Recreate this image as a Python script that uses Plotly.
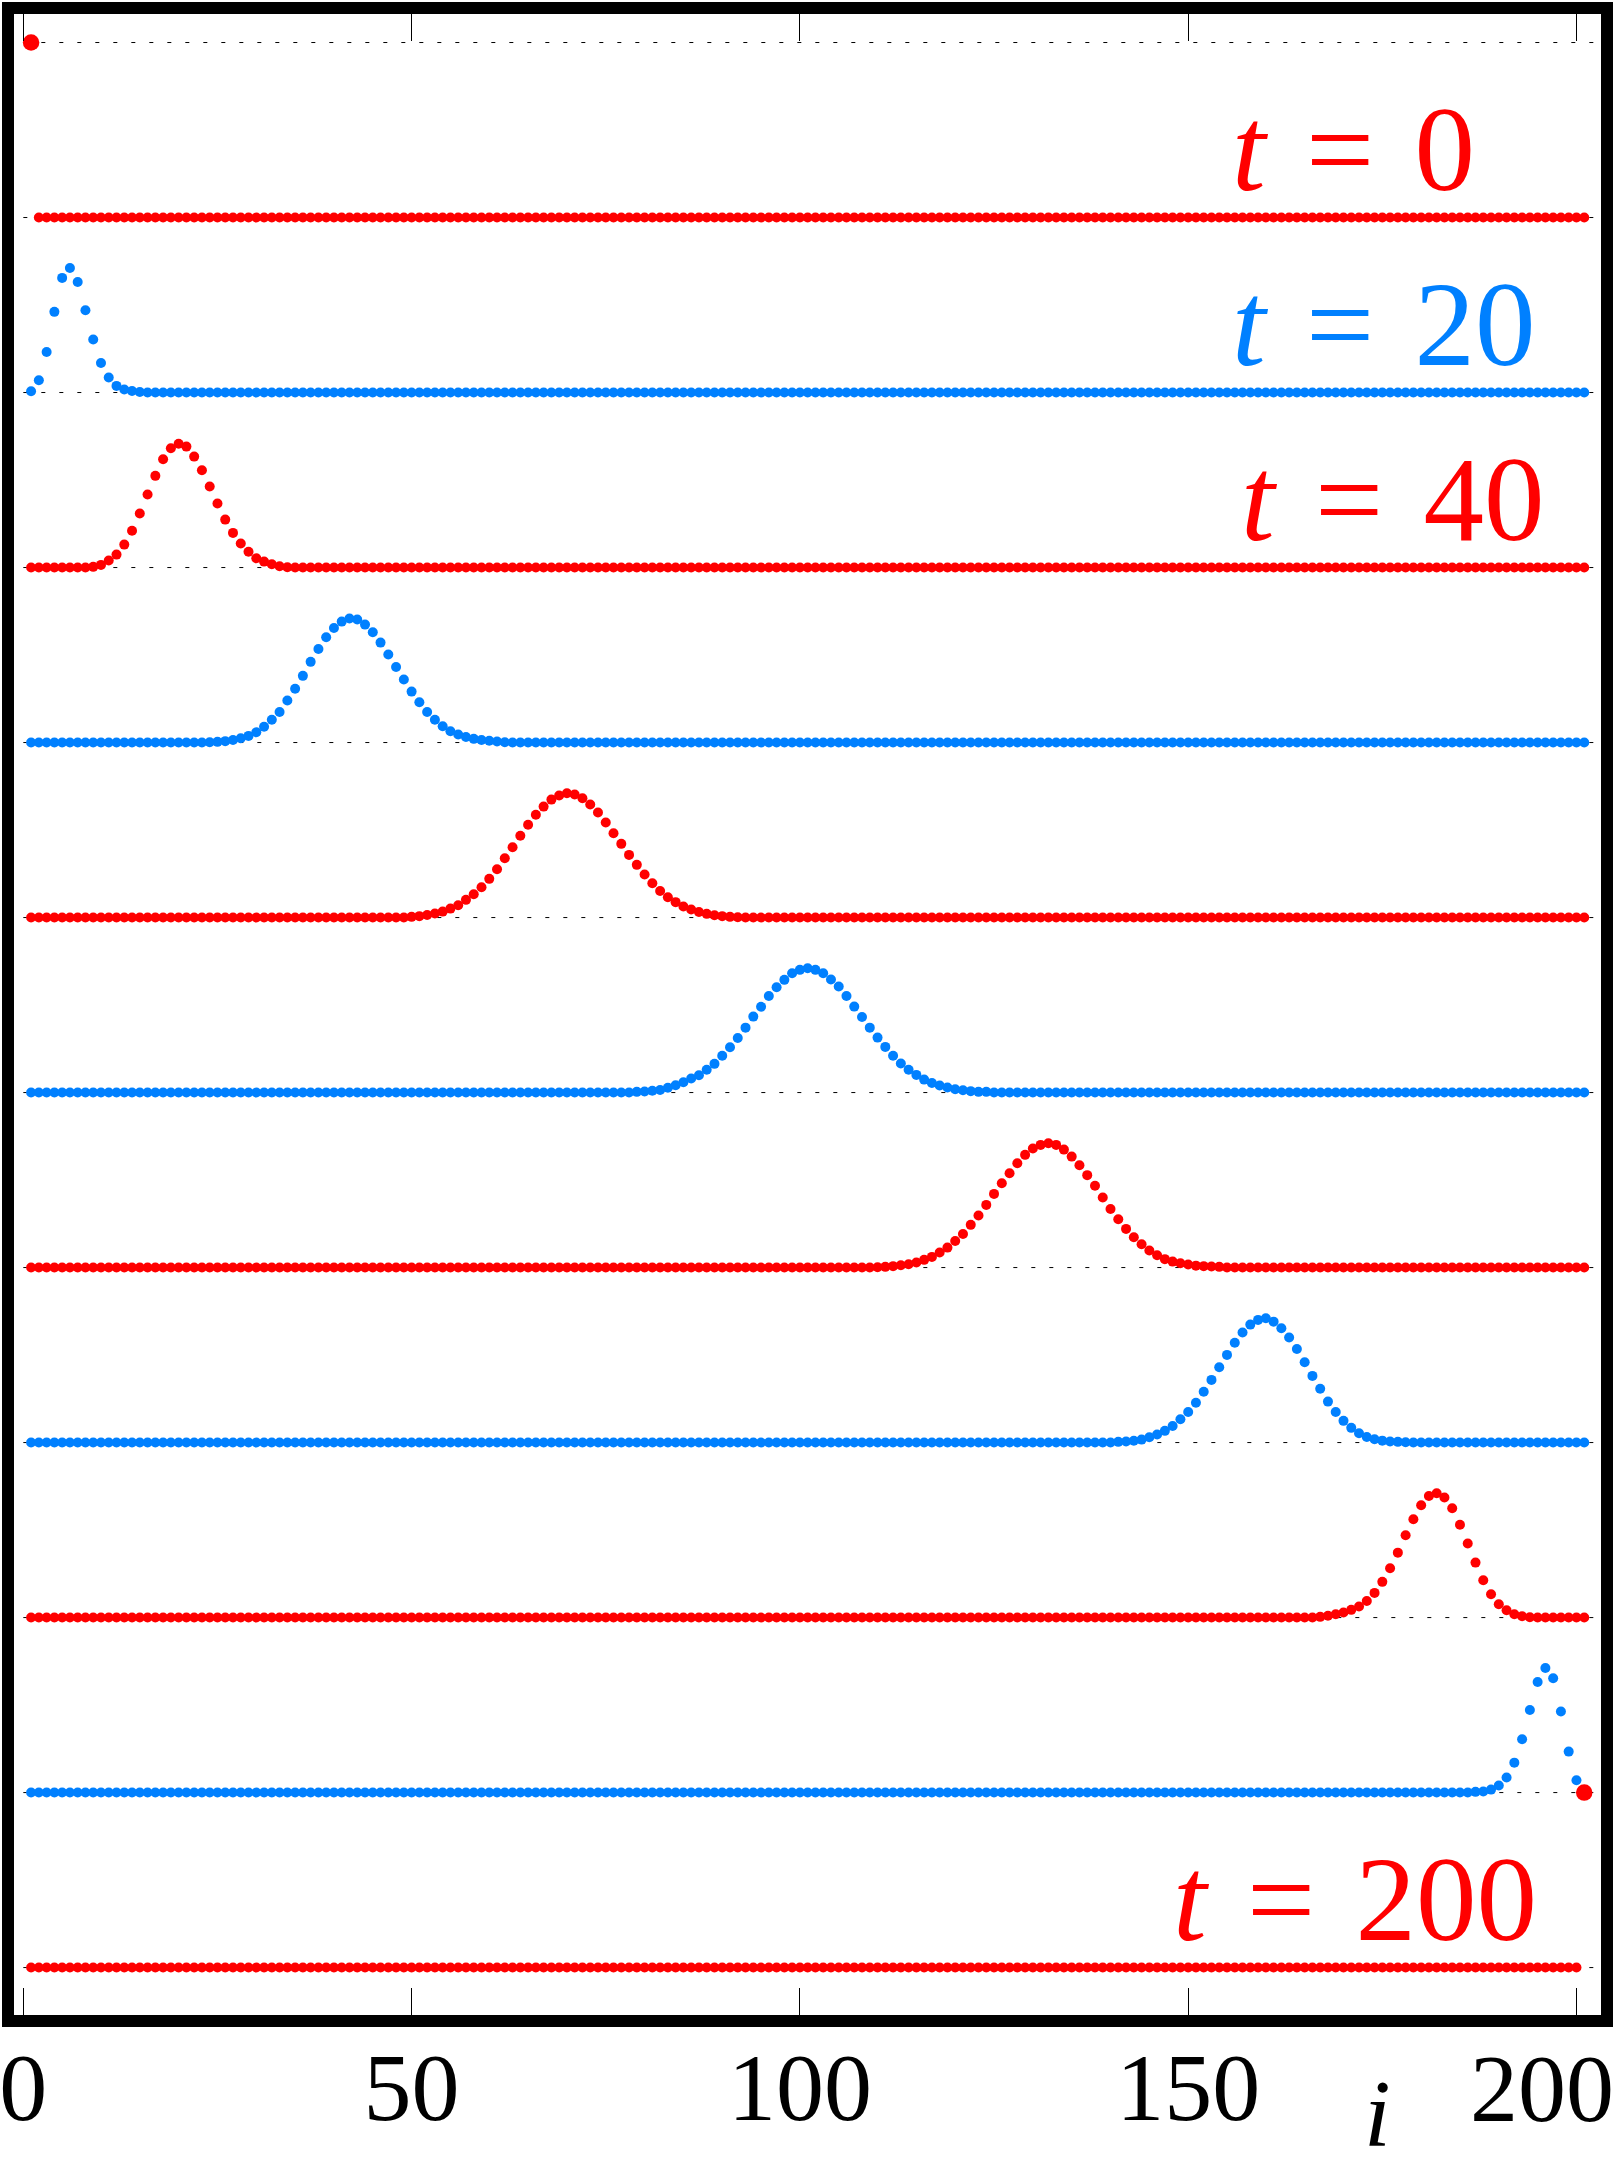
import plotly.graph_objects as go

# ---------------- data ----------------
site_index = list(range(1, 202))          # i = 1 .. 201
times = [0, 20, 40, 60, 80, 100, 120, 140, 160, 180, 200]
x_tick_values = [0, 50, 100, 150, 200]
x_tick_labels = ["0", "50", "100", "150", "200"]

# each profile: first site index of the non-zero stretch, then its values
# (heights in units of the spacing between stacked baselines; zero elsewhere)
start_t0 = 1
amp_t0 = [1.0]

start_t20 = 1
amp_t20 = [0.007, 0.070, 0.232, 0.461, 0.655, 0.712, 0.632, 0.470, 0.303, 0.169,
           0.086, 0.038, 0.017, 0.009, 0.003]

start_t40 = 9
amp_t40 = [0.004, 0.015, 0.040, 0.074, 0.131, 0.210, 0.309, 0.417, 0.524, 0.619,
           0.682, 0.707, 0.691, 0.634, 0.556, 0.463, 0.366, 0.274, 0.198, 0.137,
           0.090, 0.053, 0.034, 0.019, 0.007, 0.002]

start_t60 = 24
amp_t60 = [0.002, 0.004, 0.008, 0.015, 0.025, 0.038, 0.059, 0.090, 0.130, 0.175,
           0.240, 0.307, 0.381, 0.461, 0.535, 0.602, 0.655, 0.691, 0.709, 0.703,
           0.674, 0.630, 0.571, 0.503, 0.432, 0.360, 0.291, 0.230, 0.175, 0.130,
           0.093, 0.065, 0.046, 0.032, 0.021, 0.015, 0.010, 0.006, 0.002]

start_t80 = 50
amp_t80 = [0.004, 0.008, 0.015, 0.023, 0.034, 0.051, 0.070, 0.101, 0.133, 0.173,
           0.221, 0.276, 0.339, 0.402, 0.467, 0.530, 0.587, 0.634, 0.674, 0.697,
           0.710, 0.703, 0.682, 0.646, 0.600, 0.543, 0.482, 0.421, 0.358, 0.301,
           0.246, 0.196, 0.152, 0.116, 0.088, 0.063, 0.046, 0.032, 0.021, 0.013,
           0.008, 0.004, 0.002]

start_t100 = 79
amp_t100 = [0.004, 0.006, 0.010, 0.015, 0.027, 0.042, 0.059, 0.080, 0.099, 0.130,
            0.164, 0.210, 0.259, 0.312, 0.371, 0.434, 0.490, 0.552, 0.602, 0.644,
            0.682, 0.701, 0.710, 0.701, 0.682, 0.646, 0.606, 0.552, 0.491, 0.432,
            0.371, 0.314, 0.261, 0.210, 0.166, 0.130, 0.101, 0.074, 0.055, 0.040,
            0.029, 0.019, 0.013, 0.008, 0.004, 0.004]

start_t120 = 110
amp_t120 = [0.002, 0.004, 0.008, 0.013, 0.019, 0.029, 0.044, 0.061, 0.086, 0.114,
            0.152, 0.192, 0.244, 0.297, 0.358, 0.421, 0.482, 0.539, 0.596, 0.644,
            0.680, 0.701, 0.710, 0.701, 0.674, 0.634, 0.585, 0.528, 0.467, 0.400,
            0.335, 0.276, 0.221, 0.173, 0.133, 0.097, 0.070, 0.048, 0.034, 0.025,
            0.017, 0.011, 0.008, 0.006, 0.004]

start_t140 = 141
amp_t140 = [0.004, 0.006, 0.010, 0.017, 0.030, 0.046, 0.067, 0.095, 0.133, 0.175,
            0.227, 0.290, 0.358, 0.430, 0.501, 0.570, 0.629, 0.674, 0.701, 0.710,
            0.691, 0.653, 0.600, 0.535, 0.459, 0.381, 0.307, 0.234, 0.175, 0.124,
            0.084, 0.053, 0.032, 0.019, 0.011, 0.006, 0.004, 0.002]

start_t160 = 167
amp_t160 = [0.004, 0.010, 0.019, 0.029, 0.044, 0.063, 0.095, 0.141, 0.204, 0.282,
            0.371, 0.470, 0.562, 0.642, 0.695, 0.710, 0.686, 0.625, 0.530, 0.423,
            0.314, 0.213, 0.133, 0.076, 0.042, 0.019, 0.008, 0.002]

start_t180 = 187
amp_t180 = [0.004, 0.006, 0.017, 0.040, 0.086, 0.171, 0.305, 0.472, 0.632, 0.712,
            0.653, 0.463, 0.234, 0.070, 0.010]

start_t200 = 201
amp_t200 = [1.0]

profiles = [
    (start_t0, amp_t0), (start_t20, amp_t20), (start_t40, amp_t40),
    (start_t60, amp_t60), (start_t80, amp_t80), (start_t100, amp_t100),
    (start_t120, amp_t120), (start_t140, amp_t140), (start_t160, amp_t160),
    (start_t180, amp_t180), (start_t200, amp_t200),
]

labelled_times = [0, 20, 40, 200]

# ---------------- styling ----------------
RED = "#ff0000"
BLUE = "rgb(0,128,255)"
SERIF = "Liberation Serif, Times New Roman, serif"
GAP = " \u200a"

fig = go.Figure()

n_rows = len(times)          # 11 profiles, stacked; one extra baseline on top
baselines = list(range(n_rows + 1))

for b in baselines:
    fig.add_shape(type="line", xref="x", yref="y", x0=0, x1=202.3, y0=b, y1=b,
                  line=dict(color="black", width=1, dash="4px,14px"), layer="below")

for k, (t, (start, amp)) in enumerate(zip(times, profiles)):
    vals = [0.0] * len(site_index)
    for j, v in enumerate(amp):
        vals[start - 1 + j] = v
    offset = (times[-1] - t) / 20.0
    color = RED if k % 2 == 0 else BLUE
    sizes = [16.5 if v >= 0.99 else 10 for v in vals]
    fig.add_trace(go.Scatter(
        x=site_index, y=[offset + v for v in vals], mode="markers",
        marker=dict(color=color, size=sizes, opacity=1, line=dict(width=0)),
        showlegend=False, hoverinfo="skip"))

label_left = {0: 155.4, 20: 155.4, 40: 156.5, 200: 147.8}
for t in labelled_times:
    k = times.index(t)
    color = RED if k % 2 == 0 else BLUE
    fig.add_annotation(
        x=label_left[t], y=(times[-1] - t) / 20.0, xref="x", yref="y",
        xanchor="left", yanchor="bottom", showarrow=False,
        text=f"<i>t</i>{GAP}={GAP}{t}", font=dict(family=SERIF, size=121, color=color))

# last tick label is pulled inwards, as in the original
fig.add_annotation(x=x_tick_values[-1], y=0, xref="x", yref="paper",
                   xanchor="center", yanchor="top", xshift=-34, yshift=-18,
                   showarrow=False, text=x_tick_labels[-1],
                   font=dict(family=SERIF, size=96, color="black"))
# axis label
fig.add_annotation(x=174.4, y=0, xref="x", yref="paper",
                   xanchor="center", yanchor="bottom", yshift=-154,
                   showarrow=False, text="<i>i</i>",
                   font=dict(family=SERIF, size=96, color="black"))

fig.update_layout(
    width=1623, height=2170,
    margin=dict(l=14, r=22, t=14, b=155, pad=0, autoexpand=False),
    paper_bgcolor="white", plot_bgcolor="white",
    xaxis=dict(range=[-1.2, 203.16], showgrid=False, zeroline=False,
               automargin=False,
               showline=True, linecolor="black", linewidth=12, mirror="ticks",
               ticks="inside", ticklen=27, tickwidth=1, tickcolor="black",
               tickvals=x_tick_values,
               ticktext=x_tick_labels[:-1] + [""],
               ticklabeloverflow="allow", ticklabelstandoff=-22,
               tickfont=dict(family=SERIF, size=96, color="black")),
    yaxis=dict(range=[-0.271, 11.163], showgrid=False, zeroline=False,
               automargin=False,
               showline=True, linecolor="black", linewidth=12, mirror=True,
               ticks="", showticklabels=False),
)

fig.write_html("out.html", config={"displayModeBar": False},
               post_script="document.body.style.margin='0';")
